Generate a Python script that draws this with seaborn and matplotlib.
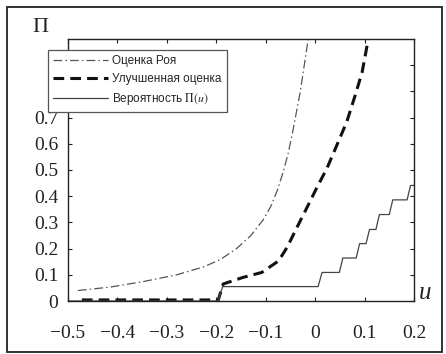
import matplotlib
matplotlib.use("Agg")
import matplotlib.pyplot as plt
from matplotlib.patches import Rectangle
import seaborn as sns

# Оценка Роя (dash-dot)
roy_u = [-0.48, -0.415, -0.348, -0.28, -0.226, -0.192, -0.159, -0.13, -0.105,
         -0.09, -0.077, -0.065, -0.055, -0.046, -0.038, -0.03, -0.022, -0.014]
roy_p = [0.04, 0.053, 0.074, 0.1, 0.13, 0.158, 0.2, 0.25, 0.31,
         0.36, 0.42, 0.49, 0.56, 0.64, 0.72, 0.8, 0.9, 1.0]

# Улучшенная оценка (dashed)
imp_u = [-0.472, -0.196, -0.186, -0.146, -0.108, -0.074, -0.057, -0.037, -0.017,
         0.003, 0.024, 0.044, 0.064, 0.081, 0.095, 0.105, 0.108]
imp_p = [0.004, 0.004, 0.065, 0.09, 0.109, 0.153, 0.204, 0.28, 0.355,
         0.431, 0.507, 0.595, 0.684, 0.785, 0.873, 0.974, 1.0]

# Вероятность П(u) (solid, staircase)
prob_u = [-0.5, -0.197, -0.187, 0.006, 0.014, 0.049, 0.056, 0.083, 0.09, 0.103,
          0.11, 0.123, 0.13, 0.15, 0.157, 0.186, 0.193, 0.2]
prob_p = [0.0, 0.0, 0.055, 0.055, 0.109, 0.109, 0.164, 0.164, 0.219, 0.219,
          0.273, 0.273, 0.33, 0.33, 0.386, 0.386, 0.441, 0.441]

x_ticks = [-0.5, -0.4, -0.3, -0.2, -0.1, 0, 0.1, 0.2]
x_labels = ["−0.5", "−0.4", "−0.3", "−0.2", "−0.1", "0", "0.1", "0.2"]
y_ticks = [0, 0.1, 0.2, 0.3, 0.4, 0.5, 0.6, 0.7, 0.8, 0.9]
y_labels = ["0", "0.1", "0.2", "0.3", "0.4", "0.5", "0.6", "0.7", "", ""]

sns.set_style("ticks")
plt.rcParams["font.family"] = ["Liberation Serif", "DejaVu Serif"]
plt.rcParams["mathtext.fontset"] = "stix"

fig = plt.figure(figsize=(4.46, 3.54), dpi=100)
ax = fig.add_axes([68 / 446, 1 - 301 / 354, 346 / 446, 262 / 354])

sns.lineplot(x=roy_u, y=roy_p, ax=ax, sort=False, estimator=None, color="#555555",
             linewidth=0.9, label="Оценка Роя")
sns.lineplot(x=imp_u, y=imp_p, ax=ax, sort=False, estimator=None, color="#111111",
             linewidth=2.2, label="Улучшенная оценка")
sns.lineplot(x=prob_u, y=prob_p, ax=ax, sort=False, estimator=None, color="#444444",
             linewidth=0.9, label=r"Вероятность $\Pi(u)$")
lines = ax.get_lines()
lines[0].set_dashes((7, 2.5, 1.2, 2.5))
lines[1].set_dashes((3.5, 2))

ax.set_xlim(-0.5, 0.2)
ax.set_ylim(0, 1.0)
ax.set_xticks(x_ticks)
ax.set_xticklabels(x_labels)
ax.set_yticks(y_ticks)
ax.set_yticklabels(y_labels)
ax.tick_params(direction="in", length=3, width=0.8, top=True, right=True,
               labelsize=14, colors="#222222")
ax.tick_params(axis="x", pad=17)
ax.tick_params(axis="y", pad=7)
for s in ax.spines.values():
    s.set_linewidth(1.0)
    s.set_color("#222222")
ax.set_xlabel("")
ax.set_ylabel("")

fig.text(40 / 446, 1 - 28 / 354, "Π", fontsize=16, ha="center", va="center",
         color="#222222")
fig.text(425 / 446, 1 - 293 / 354, "u", fontsize=18, style="italic", ha="center",
         va="center", color="#222222")

leg = ax.legend(loc="upper left", bbox_to_anchor=(48 / 446, 1 - 50 / 354),
                bbox_transform=fig.transFigure, prop={"family": "Liberation Sans", "size": 8.5},
                fancybox=False, framealpha=1, edgecolor="#555555", handlelength=4.6,
                handletextpad=0.4, borderpad=0.45, labelspacing=0.5, borderaxespad=0)
leg.get_frame().set_linewidth(0.9)

fig.patches.append(Rectangle((7 / 446, 2 / 354), 435 / 446, 345 / 354, transform=fig.transFigure,
                             fill=False, edgecolor="#222222", linewidth=1.3))

fig.savefig("out.png", dpi=100)
